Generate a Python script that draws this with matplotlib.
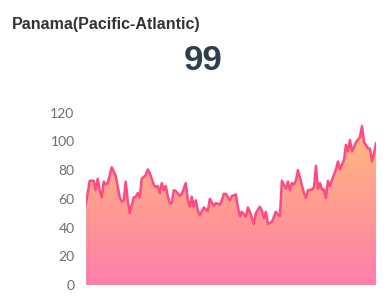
import numpy as np
import matplotlib.pyplot as plt
from matplotlib.colors import LinearSegmentedColormap

# Weekly index (gaps where no reading was taken) and index values
weeks = [0, 1, 2, 4, 5, 6, 7, 8, 9, 10, 11, 13, 14, 15, 17, 18, 19, 20, 21, 22,
         24, 25, 26, 27, 28, 30, 31, 32, 34, 35, 36, 37, 38, 39, 40, 41, 42, 43, 44, 45,
         47, 48, 50, 51, 52, 53, 54, 55, 56, 57, 59, 61, 62, 64, 65, 67, 68, 69, 70, 72,
         73, 75, 76, 77, 78, 80, 81, 82, 84, 85, 87, 88, 89, 90, 91, 93, 95, 96, 97, 98,
         100, 101, 102, 103, 104, 105, 106, 107, 109, 110, 111, 113, 114, 115, 116, 117, 118, 119, 120, 121,
         122, 123, 125, 126, 127, 128, 129, 130, 131, 132, 133, 134, 135, 137, 138, 139, 140, 141, 142, 143,
         144, 145]
values = [56, 64, 72.6, 72.6, 66, 74, 66, 61, 72, 70, 71, 82, 79, 76, 61, 58, 59, 72, 59, 50,
          61, 61.5, 64, 61, 74, 76.6, 80.5, 78, 70, 68, 69, 64, 71, 66, 69, 62, 57, 57, 66, 65.5,
          62, 63.5, 71, 59, 54.5, 61.5, 54.5, 59, 52, 48.7, 54, 51.5, 60, 55, 57, 56, 59, 63.5, 63.5, 59,
          62, 63, 54.5, 48, 51, 47.5, 54, 51, 42.5, 50, 54.5, 52, 46.5, 51, 42.5, 44, 51, 49, 48, 72.6,
          67, 72, 66, 71, 70, 72.6, 80, 75, 64, 60.5, 66, 66.5, 68, 83, 67, 71, 66.5, 66.5, 60.5, 72.6,
          69, 73, 80.5, 86, 80.5, 84, 87, 97.5, 93, 101, 93, 96, 99.5, 103, 110.7, 99.5, 97.5, 95, 95, 86,
          91.5, 98.7]
y_ticks = [0, 20, 40, 60, 80, 100, 120]

title = "Panama(Pacific-Atlantic)"
latest = "99"

fig = plt.figure(figsize=(3.87, 2.99), dpi=100)
fig.patch.set_facecolor("white")

fig.text(12 / 387, 1 - 25 / 299, title, fontsize=11.5, fontweight="bold",
         color="#333333", family="Liberation Sans", va="center", ha="left")
fig.text(203 / 387, 1 - 61 / 299, latest, fontsize=25, fontweight="bold",
         color="#2c3e50", family="Liberation Sans", va="center", ha="center")

ax = fig.add_axes([85.7 / 387, (299 - 285) / 299, (376 - 85.7) / 387, (285 - 112.7) / 299])

x = np.array(weeks)
y = np.array(values)

# gradient fill under the line: orange at the top, pink at the bottom
cmap = LinearSegmentedColormap.from_list("fade", ["#ff7eab", "#ff9c92", "#ffba7e"])
grad = np.linspace(0, 1, 256).reshape(-1, 1)
im = ax.imshow(grad, cmap=cmap, aspect="auto", origin="lower",
               extent=[x.min(), x.max(), 0, y.max()], zorder=1)
poly = ax.fill_between(x, y, 0, color="none")
clip = poly.get_paths()[0]
im.set_clip_path(clip, transform=ax.transData)

ax.plot(x, y, color="#ff4a83", lw=1.8, solid_joinstyle="round", zorder=3)

ax.set_xlim(x.min(), x.max())
ax.set_ylim(0, 120)
ax.set_yticks(y_ticks)
ax.set_yticklabels([str(t) for t in y_ticks], fontsize=10, color="#6e6e6e", family="Lato")
ax.tick_params(axis="y", length=0, pad=8)
ax.set_xticks([])
for s in ax.spines.values():
    s.set_visible(False)

fig.savefig("out.png", dpi=100)
